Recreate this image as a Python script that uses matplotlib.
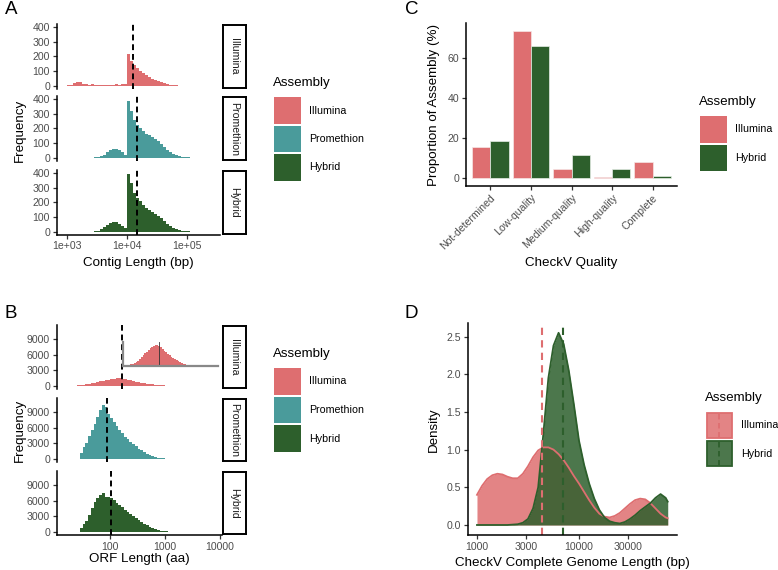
import numpy as np
import matplotlib
matplotlib.use("Agg")
import matplotlib.pyplot as plt
from matplotlib.patches import Rectangle
from matplotlib.ticker import NullLocator, FixedLocator, FixedFormatter

plt.rcParams['font.family'] = ['Liberation Sans', 'DejaVu Sans']

W, H = 778, 570
DPI = 100

# ---------------- data ----------------
assemblies = ["Illumina", "Promethion", "Hybrid"]
colors = {"Illumina": "#DE6E70", "Promethion": "#4A9B9B", "Hybrid": "#2D5F2C"}

# Panel A: contig length histograms (log10 bp bins)
contig_bin_start = 3.0
contig_bin_width = 0.05
contig_illumina = [5, 10, 20, 28, 25, 15, 12, 10, 12, 10, 10, 8, 10, 8, 10, 10, 12, 10, 12, 12,
                   215, 170, 140, 120, 100, 90, 72, 60, 48, 40, 32, 25, 18, 12, 8, 6, 4, 3, 3, 2,
                   2, 2, 1, 2, 1]
contig_promethion = [0, 0, 0, 0, 0, 0, 1, 2, 3, 5, 8, 12, 20, 38, 52, 60, 60, 52, 38, 22,
                     385, 320, 260, 225, 200, 180, 165, 155, 142, 128, 112, 95, 75, 55, 40, 28, 20, 14, 10, 7,
                     5, 3, 2, 2, 1, 1, 1, 1]
contig_hybrid = [1, 1, 1, 1, 1, 1, 1, 1, 1, 4, 8, 18, 32, 48, 60, 67, 65, 52, 38, 28,
                 390, 335, 265, 230, 210, 180, 160, 150, 138, 125, 108, 92, 72, 52, 38, 26, 18, 12, 8, 6,
                 4, 3, 2, 1, 1, 1, 1, 1]
contig_median_log = {"Illumina": 4.095, "Promethion": 4.16, "Hybrid": 4.16}

# Panel B: ORF length histograms (log10 aa bins)
orf_bin_start = 1.25
orf_bin_width = 0.05
orf_illumina = [20, 40, 70, 110, 160, 220, 300, 380, 500, 620, 760, 880, 1000, 1120, 1220, 1320,
                1400, 1450, 1470, 1420, 1300, 1180, 1060, 940, 840, 740, 640, 560, 480, 400, 320,
                260, 200, 150, 110, 70, 45, 30, 20, 12, 8, 5, 3, 2]
orf_promethion = [20, 30, 40, 60, 1200, 2300, 3000, 4400, 5500, 6700, 8100, 9300, 10300, 9900, 8600,
                  7800, 7100, 6300, 5500, 4900, 4300, 3800, 3300, 2900, 2400, 2000, 1650, 1250, 950,
                  700, 500, 360, 250, 170, 110, 70, 45, 28, 18, 10, 6, 4, 2]
orf_hybrid = [15, 25, 35, 50, 800, 1500, 2100, 3200, 4600, 5800, 6500, 7000, 7400, 6700, 6800,
              6500, 6100, 5600, 5200, 4700, 4300, 3900, 3400, 3000, 2600, 2250, 1900, 1550, 1250,
              950, 700, 500, 360, 250, 170, 110, 75, 50, 35, 22, 15, 10, 6, 4, 3, 2, 1, 1]
orf_median_log = {"Illumina": 2.21, "Promethion": 1.94, "Hybrid": 2.02}

# Panel C: CheckV quality
quality_categories = ["Not-determined", "Low-quality", "Medium-quality", "High-quality", "Complete"]
quality_illumina = [15.8, 73.7, 4.5, 0.8, 8.0]
quality_hybrid = [18.8, 66.3, 11.7, 4.5, 1.3]

# Panel D: density of complete genome length (log10 bp)
dens_illumina_x = [3.00, 3.05, 3.10, 3.15, 3.20, 3.25, 3.30, 3.35, 3.40, 3.45, 3.50, 3.55, 3.60,
                   3.65, 3.70, 3.75, 3.80, 3.85, 3.90, 3.95, 4.00, 4.05, 4.10, 4.15, 4.20, 4.25,
                   4.30, 4.35, 4.40, 4.45, 4.50, 4.55, 4.60, 4.65, 4.70, 4.75, 4.80, 4.85, 4.87]
dens_illumina_y = [0.40, 0.52, 0.61, 0.66, 0.68, 0.67, 0.64, 0.62, 0.62, 0.68, 0.78, 0.90, 0.99,
                   1.03, 1.03, 1.00, 0.94, 0.86, 0.76, 0.65, 0.55, 0.44, 0.33, 0.23, 0.15, 0.11,
                   0.10, 0.12, 0.16, 0.22, 0.28, 0.33, 0.35, 0.34, 0.29, 0.22, 0.15, 0.10, 0.09]
dens_hybrid_x = [3.00, 3.30, 3.40, 3.45, 3.50, 3.55, 3.60, 3.65, 3.70, 3.75, 3.80, 3.85, 3.90,
                 3.95, 4.00, 4.05, 4.10, 4.15, 4.20, 4.25, 4.30, 4.35, 4.40, 4.45, 4.50, 4.55,
                 4.60, 4.65, 4.70, 4.75, 4.80, 4.85, 4.87]
dens_hybrid_y = [0.0, 0.0, 0.01, 0.03, 0.08, 0.22, 0.50, 1.20, 1.95, 2.38, 2.55, 2.40, 2.05,
                 1.60, 1.12, 0.80, 0.55, 0.35, 0.20, 0.10, 0.05, 0.03, 0.02, 0.04, 0.08, 0.13,
                 0.19, 0.24, 0.29, 0.36, 0.41, 0.36, 0.31]
dens_median_log = {"Illumina": 3.637, "Hybrid": 3.843}

# ---------------- helpers ----------------
fig = plt.figure(figsize=(W / DPI, H / DPI), dpi=DPI)

TICK_FS = 7.6
TITLE_FS = 9.6
LAB_COL = "#4D4D4D"
D_ALPHA = 0.85


def px_axes(x0, y0, x1, y1, **kw):
    return fig.add_axes([x0 / W, 1 - y1 / H, (x1 - x0) / W, (y1 - y0) / H], **kw)


def classic(ax, bottom=True):
    ax.spines['top'].set_visible(False)
    ax.spines['right'].set_visible(False)
    ax.spines['left'].set_linewidth(1.1)
    ax.spines['bottom'].set_linewidth(1.1)
    ax.spines['bottom'].set_visible(bottom)
    ax.tick_params(axis='both', length=3, width=0.9, color='#333333',
                   labelcolor=LAB_COL, labelsize=TICK_FS, pad=2)
    if not bottom:
        ax.tick_params(axis='x', bottom=False, labelbottom=False)
    ax.set_facecolor('none')


def strip(x0, y0, x1, y1, label):
    a = px_axes(x0, y0, x1, y1)
    a.set_xticks([])
    a.set_yticks([])
    for s in a.spines.values():
        s.set_linewidth(1.4)
    a.text(0.5, 0.5, label, rotation=-90, ha='center', va='center', fontsize=7.6,
           color='#1A1A1A', transform=a.transAxes)


def hist(ax, counts, start, width, color):
    edges = 10 ** (start + width * np.arange(len(counts) + 1))
    ax.stairs(counts, edges, fill=True, color=color, lw=0)


def set_log_ticks(ax, ticks, labels):
    ax.set_xscale('log')
    ax.xaxis.set_major_locator(FixedLocator(ticks))
    ax.xaxis.set_major_formatter(FixedFormatter(labels))
    ax.xaxis.set_minor_locator(NullLocator())


dash = (0, (3, 2))

# ---------------- Panel A ----------------
A_rows = [(24, 88.5), (96, 160.5), (170, 234.5)]
A_data = {"Illumina": contig_illumina, "Promethion": contig_promethion, "Hybrid": contig_hybrid}
for i, name in enumerate(assemblies):
    y0, y1 = A_rows[i]
    ax = px_axes(57, y0, 220, y1)
    hist(ax, A_data[name], contig_bin_start, contig_bin_width, colors[name])
    set_log_ticks(ax, [1e3, 1e4, 1e5], ["1e+03", "1e+04", "1e+05"])
    ax.set_xlim(10 ** 2.83, 10 ** 5.55)
    ax.set_ylim(-17, 420)
    ax.set_yticks([0, 100, 200, 300, 400])
    ax.axvline(10 ** contig_median_log[name], color='black', lw=1.4, ls=dash)
    classic(ax, bottom=(i == 2))
    strip(223, y0 + 1, 246, y1 - 0.5, name)

# ---------------- Panel B ----------------
B_rows = [(325.2, 388.9), (398.2, 461.9), (471.2, 534.9)]
B_data = {"Illumina": orf_illumina, "Promethion": orf_promethion, "Hybrid": orf_hybrid}
for i, name in enumerate(assemblies):
    y0, y1 = B_rows[i]
    ax = px_axes(57, y0, 222, y1)
    hist(ax, B_data[name], orf_bin_start, orf_bin_width, colors[name])
    set_log_ticks(ax, [1e2, 1e3, 1e4], ["100", "1000", "10000"])
    ax.set_xlim(10 ** 1.036, 10 ** 4.036)
    ax.set_ylim(-555, 11655)
    ax.set_yticks([0, 3000, 6000, 9000])
    ax.axvline(10 ** orf_median_log[name], color='black', lw=1.4, ls=dash)
    classic(ax, bottom=(i == 2))
    strip(223, y0 + 0.5, 246, y1 - 0.5, name)

# inset in Illumina ORF panel
ins = px_axes(123, 341.5, 218, 366)
hist(ins, orf_illumina, orf_bin_start, orf_bin_width, colors["Illumina"])
ins.set_xscale('log')
ins.set_xlim(10 ** 1.19, 10 ** 3.9)
ins.set_ylim(0, 1700)
ins.axvline(10 ** orf_median_log["Illumina"], color='#333333', lw=0.6)
ins.set_xticks([])
ins.set_yticks([])
ins.xaxis.set_minor_locator(NullLocator())
ins.spines['top'].set_visible(False)
ins.spines['right'].set_visible(False)
for s in ['left', 'bottom']:
    ins.spines[s].set_color('#888888')
    ins.spines[s].set_linewidth(1.6)
ins.set_facecolor('none')

# ---------------- Panel C ----------------
axC = px_axes(466, 23.5, 677, 185.7)
xpos = np.arange(1, len(quality_categories) + 1)
axC.bar(xpos - 0.225, quality_illumina, width=0.45, color=colors["Illumina"],
        edgecolor='#F6E6E6', linewidth=0.5)
axC.bar(xpos + 0.225, quality_hybrid, width=0.45, color=colors["Hybrid"],
        edgecolor='#E6EEE6', linewidth=0.5)
axC.set_xlim(0.4, len(quality_categories) + 0.6)
axC.set_ylim(-3.69, 77.4)
axC.set_yticks([0, 20, 40, 60])
axC.set_xticks(xpos)
axC.set_xticklabels(quality_categories, rotation=45, ha='right', va='top',
                    rotation_mode='anchor')
classic(axC)

# ---------------- Panel D ----------------
axD = px_axes(468, 323, 677, 534.6)
for name, xs, ys in [("Illumina", dens_illumina_x, dens_illumina_y),
                     ("Hybrid", dens_hybrid_x, dens_hybrid_y)]:
    xv = 10 ** np.array(xs)
    axD.fill_between(xv, ys, color=colors[name], alpha=D_ALPHA, lw=0)
    axD.plot(xv, ys, color=colors[name], lw=1.3)
for name in ["Illumina", "Hybrid"]:
    axD.axvline(10 ** dens_median_log[name], color=colors[name], lw=1.5, ls=(0, (3.5, 2.5)))
set_log_ticks(axD, [1000, 3000, 10000, 30000], ["1000", "3000", "10000", "30000"])
axD.set_xlim(10 ** 2.912, 10 ** 4.961)
axD.set_ylim(-0.1275, 2.68)
axD.set_yticks([0, 0.5, 1.0, 1.5, 2.0, 2.5])
axD.set_yticklabels(["0.0", "0.5", "1.0", "1.5", "2.0", "2.5"])
classic(axD)

# ---------------- overlay: labels and legends ----------------
ov = fig.add_axes([0, 0, 1, 1])
ov.set_xlim(0, W)
ov.set_ylim(H, 0)
ov.axis('off')
ov.set_zorder(10)

for lab, x, y in [("A", 5, 9), ("B", 5, 313), ("C", 405, 9), ("D", 405, 313)]:
    ov.text(x, y, lab, fontsize=13.5, ha='left', va='center', color='black')

ov.text(138, 263, "Contig Length (bp)", fontsize=TITLE_FS, ha='center', va='center')
ov.text(20, 130, "Frequency", fontsize=TITLE_FS, ha='center', va='center', rotation=90)
ov.text(139, 559, "ORF Length (aa)", fontsize=TITLE_FS, ha='center', va='center')
ov.text(20, 430, "Frequency", fontsize=TITLE_FS, ha='center', va='center', rotation=90)
ov.text(571.5, 263, "CheckV Quality", fontsize=TITLE_FS, ha='center', va='center')
ov.text(434, 104.6, "Proportion of Assembly (%)", fontsize=TITLE_FS, ha='center',
        va='center', rotation=90)
ov.text(572, 563, "CheckV Complete Genome Length (bp)", fontsize=TITLE_FS, ha='center',
        va='center')
ov.text(434, 430, "Density", fontsize=TITLE_FS, ha='center', va='center', rotation=90)


def legend(x, ytitle, names, style="fill"):
    ov.text(x - 1, ytitle, "Assembly", fontsize=TITLE_FS, ha='left', va='center')
    for i, name in enumerate(names):
        y0 = ytitle + 14 + i * 28.5
        if style == "fill":
            ov.add_patch(Rectangle((x, y0), 27, 26.5, facecolor=colors[name], edgecolor='none'))
        else:
            ov.add_patch(Rectangle((x + 0.7, y0 + 0.7), 25.6, 25.1, facecolor=colors[name],
                                   alpha=D_ALPHA, edgecolor='none'))
            ov.add_patch(Rectangle((x + 0.7, y0 + 0.7), 25.6, 25.1, facecolor='none',
                                   edgecolor=colors[name], lw=1.3))
            ov.plot([x + 13.5, x + 13.5], [y0 + 1.5, y0 + 25.5], color=colors[name], lw=1.3,
                    ls=(0, (3, 2)))
        ov.text(x + 35, y0 + 13.5, name, fontsize=7.7, ha='left', va='center')


legend(274, 83, assemblies)
legend(274, 354, assemblies)
legend(700, 102, ["Illumina", "Hybrid"])
legend(706, 398, ["Illumina", "Hybrid"], style="outline")

fig.savefig("out.png", dpi=DPI)
